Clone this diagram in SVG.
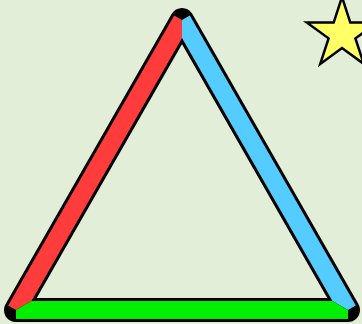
<svg xmlns="http://www.w3.org/2000/svg" width="362" height="324" viewBox="0 0 362 324">
<style>
.side{stroke:none}
</style>
<rect width="362" height="324" fill="#e2eed8"/>
<g id="triangle-outline">
<polygon points="182,20 16,310 348,310" fill="none" stroke="#000" stroke-width="24" stroke-linejoin="round"/>
</g>
<g id="connectors">
<polygon id="side-left" class="side" fill="#ff3c3c" points="16,310 8.19,305.53 174.19,15.53 182,20 182,38.12 31.52,301"/>
<polygon id="side-right" class="side" fill="#55ccff" points="182,20 189.81,15.53 355.81,305.53 348,310 332.48,301 182,38.12"/>
<polygon id="side-bottom" class="side" fill="#00ee00" points="16,310 31.52,301 332.48,301 348,310 348,319 16,319"/>
</g>
<g id="star">
<polygon points="342,-3 350.29,22.59 377.19,22.57 355.41,38.36 363.75,63.93 342,48.1 320.25,63.93 328.59,38.36 306.81,22.57 333.71,22.59" fill="#ffff66" stroke="#000" stroke-width="2.5" stroke-linejoin="miter"/>
</g>
</svg>
